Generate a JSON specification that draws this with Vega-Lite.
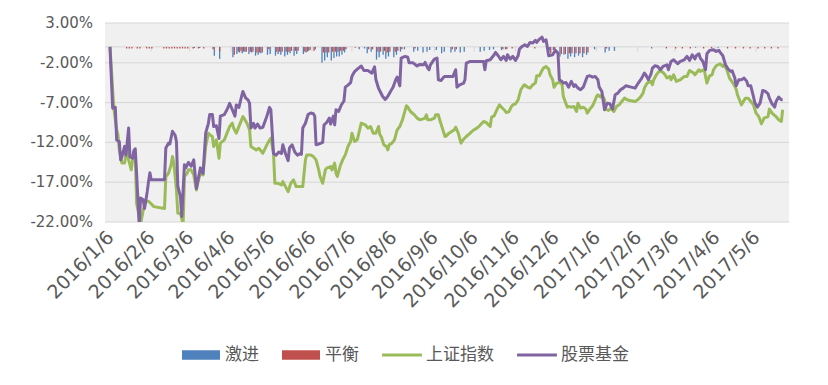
{
"$schema": "https://vega.github.io/schema/vega-lite/v6.json",
"width": 684,
"height": 199,
"autosize": {"type": "none"},
"padding": {"left": 105, "top": 23, "right": 39, "bottom": 163},
"background": "white",
"config": {
  "view": {"stroke": null, "fill": "#f0f0f0"},
  "axisX": {"domain": false, "ticks": false, "grid": false, "labelColor": "#595959", "labelFont": "DejaVu Sans", "labelFontSize": 19, "labelAngle": -46, "labelAlign": "right", "labelBaseline": "middle", "labelPadding": 12, "labelOverlap": false, "labelBound": false, "labelFlush": false},
  "legend": {"orient": "none", "legendX": 77, "legendY": 313, "direction": "horizontal", "padding": 0, "symbolSize": 1444, "symbolType": "square", "symbolStrokeWidth": 0, "labelFont": "Noto Sans CJK SC", "labelFontSize": 17, "labelColor": "#595959", "labelOffset": 5, "columnPadding": 23, "titleFontSize": 0}
},
"datasets": {
  "mon": [
    {"d": "2016/1/6"}, {"d": "2016/2/6"}, {"d": "2016/3/6"}, {"d": "2016/4/6"}, {"d": "2016/5/6"}, {"d": "2016/6/6"}, {"d": "2016/7/6"}, {"d": "2016/8/6"}, {"d": "2016/9/6"}, {"d": "2016/10/6"}, {"d": "2016/11/6"}, {"d": "2016/12/6"}, {"d": "2017/1/6"}, {"d": "2017/2/6"}, {"d": "2017/3/6"}, {"d": "2017/4/6"}, {"d": "2017/5/6"}
  ],
  "grid": [{"v": 3, "t": "3.00%"}, {"v": -2, "t": "-2.00%"}, {"v": -7, "t": "-7.00%"}, {"v": -12, "t": "-12.00%"}, {"v": -17, "t": "-17.00%"}, {"v": -22, "t": "-22.00%"}],
  "line": [
    {"d":"2016/1/6","s":"上证指数","v":0},{"d":"2016/1/8","s":"上证指数","v":-5.39},{"d":"2016/1/9","s":"上证指数","v":-7.9},{"d":"2016/1/11","s":"上证指数","v":-10.4},{"d":"2016/1/12","s":"上证指数","v":-11.05},{"d":"2016/1/13","s":"上证指数","v":-12.94},{"d":"2016/1/15","s":"上证指数","v":-14.6},{"d":"2016/1/17","s":"上证指数","v":-14.6},{"d":"2016/1/19","s":"上证指数","v":-12.52},{"d":"2016/1/20","s":"上证指数","v":-14.2},{"d":"2016/1/22","s":"上证指数","v":-15.45},{"d":"2016/1/23","s":"上证指数","v":-14.2},{"d":"2016/1/25","s":"上证指数","v":-13.36},{"d":"2016/1/26","s":"上证指数","v":-19.65},{"d":"2016/1/28","s":"上证指数","v":-21.3},{"d":"2016/1/29","s":"上证指数","v":-22.3},{"d":"2016/1/31","s":"上证指数","v":-20.5},{"d":"2016/2/2","s":"上证指数","v":-19.4},{"d":"2016/2/4","s":"上证指数","v":-19.4},{"d":"2016/2/8","s":"上证指数","v":-20.07},{"d":"2016/2/16","s":"上证指数","v":-20.3},{"d":"2016/2/17","s":"上证指数","v":-16.3},{"d":"2016/2/19","s":"上证指数","v":-15.87},{"d":"2016/2/21","s":"上证指数","v":-14.8},{"d":"2016/2/22","s":"上证指数","v":-13.78},{"d":"2016/2/23","s":"上证指数","v":-14.6},{"d":"2016/2/25","s":"上证指数","v":-17.97},{"d":"2016/2/26","s":"上证指数","v":-20.9},{"d":"2016/2/28","s":"上证指数","v":-20.9},{"d":"2016/3/1","s":"上证指数","v":-22.3},{"d":"2016/3/2","s":"上证指数","v":-16.3},{"d":"2016/3/4","s":"上证指数","v":-15.87},{"d":"2016/3/5","s":"上证指数","v":-15.45},{"d":"2016/3/7","s":"上证指数","v":-15.45},{"d":"2016/3/9","s":"上证指数","v":-16.08},{"d":"2016/3/11","s":"上证指数","v":-17.97},{"d":"2016/3/12","s":"上证指数","v":-17.13},{"d":"2016/3/14","s":"上证指数","v":-15.87},{"d":"2016/3/16","s":"上证指数","v":-16.08},{"d":"2016/3/18","s":"上证指数","v":-12.52},{"d":"2016/3/20","s":"上证指数","v":-10.84},{"d":"2016/3/21","s":"上证指数","v":-11.05},{"d":"2016/3/23","s":"上证指数","v":-11.26},{"d":"2016/3/24","s":"上证指数","v":-12.52},{"d":"2016/3/26","s":"上证指数","v":-11.68},{"d":"2016/3/28","s":"上证指数","v":-13.99},{"d":"2016/3/29","s":"上证指数","v":-12.1},{"d":"2016/4/1","s":"上证指数","v":-11.68},{"d":"2016/4/3","s":"上证指数","v":-10.84},{"d":"2016/4/5","s":"上证指数","v":-10.0},{"d":"2016/4/7","s":"上证指数","v":-9.58},{"d":"2016/4/8","s":"上证指数","v":-10.21},{"d":"2016/4/10","s":"上证指数","v":-10.84},{"d":"2016/4/13","s":"上证指数","v":-9.58},{"d":"2016/4/15","s":"上证指数","v":-8.75},{"d":"2016/4/18","s":"上证指数","v":-9.58},{"d":"2016/4/20","s":"上证指数","v":-10.42},{"d":"2016/4/21","s":"上证指数","v":-12.52},{"d":"2016/4/23","s":"上证指数","v":-12.73},{"d":"2016/4/25","s":"上证指数","v":-12.94},{"d":"2016/4/27","s":"上证指数","v":-12.73},{"d":"2016/4/30","s":"上证指数","v":-13.36},{"d":"2016/5/3","s":"上证指数","v":-12.31},{"d":"2016/5/5","s":"上证指数","v":-11.68},{"d":"2016/5/6","s":"上证指数","v":-11.47},{"d":"2016/5/8","s":"上证指数","v":-13.36},{"d":"2016/5/9","s":"上证指数","v":-17.13},{"d":"2016/5/11","s":"上证指数","v":-17.13},{"d":"2016/5/14","s":"上证指数","v":-17.34},{"d":"2016/5/15","s":"上证指数","v":-16.92},{"d":"2016/5/17","s":"上证指数","v":-17.55},{"d":"2016/5/19","s":"上证指数","v":-18.18},{"d":"2016/5/21","s":"上证指数","v":-17.13},{"d":"2016/5/23","s":"上证指数","v":-16.71},{"d":"2016/5/25","s":"上证指数","v":-17.55},{"d":"2016/5/30","s":"上证指数","v":-17.55},{"d":"2016/6/1","s":"上证指数","v":-14.2},{"d":"2016/6/2","s":"上证指数","v":-13.57},{"d":"2016/6/5","s":"上证指数","v":-13.57},{"d":"2016/6/7","s":"上证指数","v":-13.78},{"d":"2016/6/9","s":"上证指数","v":-14.2},{"d":"2016/6/11","s":"上证指数","v":-15.45},{"d":"2016/6/12","s":"上证指数","v":-16.29},{"d":"2016/6/14","s":"上证指数","v":-17.13},{"d":"2016/6/16","s":"上证指数","v":-15.45},{"d":"2016/6/17","s":"上证指数","v":-15.24},{"d":"2016/6/20","s":"上证指数","v":-15.03},{"d":"2016/6/21","s":"上证指数","v":-15.45},{"d":"2016/6/23","s":"上证指数","v":-14.6},{"d":"2016/6/24","s":"上证指数","v":-15.87},{"d":"2016/6/25","s":"上证指数","v":-16.29},{"d":"2016/6/27","s":"上证指数","v":-15.03},{"d":"2016/6/29","s":"上证指数","v":-14.2},{"d":"2016/7/1","s":"上证指数","v":-13.57},{"d":"2016/7/3","s":"上证指数","v":-12.52},{"d":"2016/7/5","s":"上证指数","v":-11.89},{"d":"2016/7/6","s":"上证指数","v":-10.84},{"d":"2016/7/8","s":"上证指数","v":-11.89},{"d":"2016/7/10","s":"上证指数","v":-11.68},{"d":"2016/7/13","s":"上证指数","v":-9.58},{"d":"2016/7/16","s":"上证指数","v":-9.79},{"d":"2016/7/18","s":"上证指数","v":-10.21},{"d":"2016/7/20","s":"上证指数","v":-10.0},{"d":"2016/7/22","s":"上证指数","v":-10.84},{"d":"2016/7/24","s":"上证指数","v":-10.84},{"d":"2016/7/26","s":"上证指数","v":-10.0},{"d":"2016/7/27","s":"上证指数","v":-11.05},{"d":"2016/7/28","s":"上证指数","v":-11.26},{"d":"2016/7/30","s":"上证指数","v":-12.31},{"d":"2016/8/1","s":"上证指数","v":-12.52},{"d":"2016/8/2","s":"上证指数","v":-12.94},{"d":"2016/8/3","s":"上证指数","v":-12.31},{"d":"2016/8/5","s":"上证指数","v":-12.1},{"d":"2016/8/7","s":"上证指数","v":-11.68},{"d":"2016/8/8","s":"上证指数","v":-11.05},{"d":"2016/8/9","s":"上证指数","v":-10.42},{"d":"2016/8/11","s":"上证指数","v":-10.0},{"d":"2016/8/13","s":"上证指数","v":-9.16},{"d":"2016/8/16","s":"上证指数","v":-7.4},{"d":"2016/8/17","s":"上证指数","v":-7.57},{"d":"2016/8/19","s":"上证指数","v":-8.12},{"d":"2016/8/22","s":"上证指数","v":-8.54},{"d":"2016/8/24","s":"上证指数","v":-8.95},{"d":"2016/8/26","s":"上证指数","v":-9.16},{"d":"2016/8/28","s":"上证指数","v":-9.08},{"d":"2016/8/30","s":"上证指数","v":-8.95},{"d":"2016/8/31","s":"上证指数","v":-8.54},{"d":"2016/9/1","s":"上证指数","v":-9.16},{"d":"2016/9/3","s":"上证指数","v":-9.16},{"d":"2016/9/6","s":"上证指数","v":-8.95},{"d":"2016/9/7","s":"上证指数","v":-8.54},{"d":"2016/9/9","s":"上证指数","v":-8.54},{"d":"2016/9/10","s":"上证指数","v":-9.16},{"d":"2016/9/12","s":"上证指数","v":-10.21},{"d":"2016/9/14","s":"上证指数","v":-11.26},{"d":"2016/9/15","s":"上证指数","v":-11.18},{"d":"2016/9/17","s":"上证指数","v":-10.84},{"d":"2016/9/19","s":"上证指数","v":-10.63},{"d":"2016/9/21","s":"上证指数","v":-10.42},{"d":"2016/9/22","s":"上证指数","v":-10.09},{"d":"2016/9/24","s":"上证指数","v":-10.84},{"d":"2016/9/26","s":"上证指数","v":-12.1},{"d":"2016/9/28","s":"上证指数","v":-11.6},{"d":"2016/9/30","s":"上证指数","v":-11.26},{"d":"2016/10/3","s":"上证指数","v":-10.84},{"d":"2016/10/5","s":"上证指数","v":-10.51},{"d":"2016/10/8","s":"上证指数","v":-10.21},{"d":"2016/10/10","s":"上证指数","v":-9.92},{"d":"2016/10/13","s":"上证指数","v":-9.37},{"d":"2016/10/15","s":"上证指数","v":-9.5},{"d":"2016/10/16","s":"上证指数","v":-9.67},{"d":"2016/10/18","s":"上证指数","v":-10.0},{"d":"2016/10/19","s":"上证指数","v":-8.83},{"d":"2016/10/21","s":"上证指数","v":-8.66},{"d":"2016/10/23","s":"上证指数","v":-7.9},{"d":"2016/10/25","s":"上证指数","v":-7.28},{"d":"2016/10/26","s":"上证指数","v":-7.49},{"d":"2016/10/29","s":"上证指数","v":-7.99},{"d":"2016/10/30","s":"上证指数","v":-8.24},{"d":"2016/11/1","s":"上证指数","v":-8.16},{"d":"2016/11/3","s":"上证指数","v":-7.49},{"d":"2016/11/4","s":"上证指数","v":-7.28},{"d":"2016/11/6","s":"上证指数","v":-7.15},{"d":"2016/11/8","s":"上证指数","v":-6.65},{"d":"2016/11/10","s":"上证指数","v":-5.39},{"d":"2016/11/12","s":"上证指数","v":-4.89},{"d":"2016/11/13","s":"上证指数","v":-4.76},{"d":"2016/11/15","s":"上证指数","v":-5.06},{"d":"2016/11/17","s":"上证指数","v":-5.18},{"d":"2016/11/19","s":"上证指数","v":-4.76},{"d":"2016/11/21","s":"上证指数","v":-4.55},{"d":"2016/11/22","s":"上证指数","v":-3.63},{"d":"2016/11/24","s":"上证指数","v":-3.63},{"d":"2016/11/26","s":"上证指数","v":-2.96},{"d":"2016/11/27","s":"上证指数","v":-2.67},{"d":"2016/11/29","s":"上证指数","v":-2.46},{"d":"2016/12/1","s":"上证指数","v":-2.79},{"d":"2016/12/2","s":"上证指数","v":-3.5},{"d":"2016/12/4","s":"上证指数","v":-4.13},{"d":"2016/12/5","s":"上证指数","v":-5.06},{"d":"2016/12/7","s":"上证指数","v":-4.55},{"d":"2016/12/9","s":"上证指数","v":-4.47},{"d":"2016/12/11","s":"上证指数","v":-4.64},{"d":"2016/12/12","s":"上证指数","v":-6.23},{"d":"2016/12/15","s":"上证指数","v":-7.57},{"d":"2016/12/16","s":"上证指数","v":-7.49},{"d":"2016/12/18","s":"上证指数","v":-7.57},{"d":"2016/12/20","s":"上证指数","v":-7.49},{"d":"2016/12/22","s":"上证指数","v":-8.12},{"d":"2016/12/23","s":"上证指数","v":-7.07},{"d":"2016/12/25","s":"上证指数","v":-7.7},{"d":"2016/12/27","s":"上证指数","v":-7.57},{"d":"2016/12/29","s":"上证指数","v":-7.82},{"d":"2016/12/30","s":"上证指数","v":-8.33},{"d":"2017/1/1","s":"上证指数","v":-7.82},{"d":"2017/1/3","s":"上证指数","v":-7.4},{"d":"2017/1/5","s":"上证指数","v":-6.65},{"d":"2017/1/6","s":"上证指数","v":-6.23},{"d":"2017/1/7","s":"上证指数","v":-6.02},{"d":"2017/1/9","s":"上证指数","v":-6.31},{"d":"2017/1/10","s":"上证指数","v":-6.02},{"d":"2017/1/12","s":"上证指数","v":-6.65},{"d":"2017/1/13","s":"上证指数","v":-7.82},{"d":"2017/1/15","s":"上证指数","v":-7.99},{"d":"2017/1/17","s":"上证指数","v":-7.7},{"d":"2017/1/19","s":"上证指数","v":-8.12},{"d":"2017/1/21","s":"上证指数","v":-7.49},{"d":"2017/1/23","s":"上证指数","v":-7.28},{"d":"2017/1/25","s":"上证指数","v":-6.86},{"d":"2017/1/27","s":"上证指数","v":-6.44},{"d":"2017/1/29","s":"上证指数","v":-6.65},{"d":"2017/1/31","s":"上证指数","v":-6.73},{"d":"2017/2/4","s":"上证指数","v":-6.86},{"d":"2017/2/6","s":"上证指数","v":-6.65},{"d":"2017/2/8","s":"上证指数","v":-6.31},{"d":"2017/2/10","s":"上证指数","v":-5.81},{"d":"2017/2/11","s":"上证指数","v":-5.18},{"d":"2017/2/13","s":"上证指数","v":-4.55},{"d":"2017/2/16","s":"上证指数","v":-4.34},{"d":"2017/2/17","s":"上证指数","v":-4.76},{"d":"2017/2/18","s":"上证指数","v":-4.13},{"d":"2017/2/20","s":"上证指数","v":-3.5},{"d":"2017/2/22","s":"上证指数","v":-3.08},{"d":"2017/2/24","s":"上证指数","v":-3.08},{"d":"2017/2/26","s":"上证指数","v":-3.38},{"d":"2017/2/28","s":"上证指数","v":-3.92},{"d":"2017/3/2","s":"上证指数","v":-3.71},{"d":"2017/3/3","s":"上证指数","v":-4.13},{"d":"2017/3/5","s":"上证指数","v":-3.5},{"d":"2017/3/7","s":"上证指数","v":-4.34},{"d":"2017/3/10","s":"上证指数","v":-4.13},{"d":"2017/3/13","s":"上证指数","v":-3.71},{"d":"2017/3/15","s":"上证指数","v":-3.71},{"d":"2017/3/17","s":"上证指数","v":-2.96},{"d":"2017/3/20","s":"上证指数","v":-3.29},{"d":"2017/3/21","s":"上证指数","v":-3.5},{"d":"2017/3/24","s":"上证指数","v":-2.87},{"d":"2017/3/25","s":"上证指数","v":-3.08},{"d":"2017/3/28","s":"上证指数","v":-2.87},{"d":"2017/3/30","s":"上证指数","v":-4.55},{"d":"2017/4/1","s":"上证指数","v":-3.63},{"d":"2017/4/3","s":"上证指数","v":-3.5},{"d":"2017/4/4","s":"上证指数","v":-2.87},{"d":"2017/4/6","s":"上证指数","v":-2.37},{"d":"2017/4/9","s":"上证指数","v":-2.12},{"d":"2017/4/11","s":"上证指数","v":-2.46},{"d":"2017/4/12","s":"上证指数","v":-2.25},{"d":"2017/4/14","s":"上证指数","v":-2.87},{"d":"2017/4/16","s":"上证指数","v":-3.92},{"d":"2017/4/19","s":"上证指数","v":-4.64},{"d":"2017/4/21","s":"上证指数","v":-5.31},{"d":"2017/4/22","s":"上证指数","v":-6.02},{"d":"2017/4/25","s":"上证指数","v":-7.28},{"d":"2017/4/28","s":"上证指数","v":-6.44},{"d":"2017/4/30","s":"上证指数","v":-6.44},{"d":"2017/5/2","s":"上证指数","v":-6.86},{"d":"2017/5/4","s":"上证指数","v":-7.28},{"d":"2017/5/6","s":"上证指数","v":-8.33},{"d":"2017/5/8","s":"上证指数","v":-8.75},{"d":"2017/5/10","s":"上证指数","v":-9.67},{"d":"2017/5/12","s":"上证指数","v":-8.95},{"d":"2017/5/15","s":"上证指数","v":-8.75},{"d":"2017/5/16","s":"上证指数","v":-7.82},{"d":"2017/5/18","s":"上证指数","v":-8.33},{"d":"2017/5/21","s":"上证指数","v":-8.75},{"d":"2017/5/23","s":"上证指数","v":-9.16},{"d":"2017/5/25","s":"上证指数","v":-9.37},{"d":"2017/5/26","s":"上证指数","v":-7.9},
    {"d":"2016/1/6","s":"股票基金","v":0},{"d":"2016/1/8","s":"股票基金","v":-7.7},{"d":"2016/1/10","s":"股票基金","v":-7.6},{"d":"2016/1/11","s":"股票基金","v":-11.7},{"d":"2016/1/13","s":"股票基金","v":-11.9},{"d":"2016/1/14","s":"股票基金","v":-14.2},{"d":"2016/1/15","s":"股票基金","v":-13.8},{"d":"2016/1/17","s":"股票基金","v":-12.5},{"d":"2016/1/18","s":"股票基金","v":-13.6},{"d":"2016/1/20","s":"股票基金","v":-10.2},{"d":"2016/1/21","s":"股票基金","v":-13.8},{"d":"2016/1/23","s":"股票基金","v":-14.0},{"d":"2016/1/24","s":"股票基金","v":-13.0},{"d":"2016/1/25","s":"股票基金","v":-12.8},{"d":"2016/1/26","s":"股票基金","v":-15.9},{"d":"2016/1/27","s":"股票基金","v":-19.2},{"d":"2016/1/28","s":"股票基金","v":-22.5},{"d":"2016/1/29","s":"股票基金","v":-19.0},{"d":"2016/1/31","s":"股票基金","v":-19.2},{"d":"2016/2/1","s":"股票基金","v":-20.3},{"d":"2016/2/3","s":"股票基金","v":-18.2},{"d":"2016/2/4","s":"股票基金","v":-16.9},{"d":"2016/2/5","s":"股票基金","v":-15.8},{"d":"2016/2/6","s":"股票基金","v":-16.7},{"d":"2016/2/16","s":"股票基金","v":-16.7},{"d":"2016/2/17","s":"股票基金","v":-12.7},{"d":"2016/2/19","s":"股票基金","v":-12.1},{"d":"2016/2/20","s":"股票基金","v":-12.2},{"d":"2016/2/22","s":"股票基金","v":-10.6},{"d":"2016/2/24","s":"股票基金","v":-11.1},{"d":"2016/2/25","s":"股票基金","v":-11.9},{"d":"2016/2/26","s":"股票基金","v":-17.5},{"d":"2016/2/28","s":"股票基金","v":-18.8},{"d":"2016/2/29","s":"股票基金","v":-21.3},{"d":"2016/3/2","s":"股票基金","v":-14.8},{"d":"2016/3/3","s":"股票基金","v":-15.2},{"d":"2016/3/5","s":"股票基金","v":-14.5},{"d":"2016/3/7","s":"股票基金","v":-15.0},{"d":"2016/3/9","s":"股票基金","v":-14.2},{"d":"2016/3/11","s":"股票基金","v":-17.8},{"d":"2016/3/12","s":"股票基金","v":-16.9},{"d":"2016/3/14","s":"股票基金","v":-15.2},{"d":"2016/3/16","s":"股票基金","v":-15.9},{"d":"2016/3/18","s":"股票基金","v":-10.8},{"d":"2016/3/20","s":"股票基金","v":-9.6},{"d":"2016/3/21","s":"股票基金","v":-8.5},{"d":"2016/3/23","s":"股票基金","v":-8.5},{"d":"2016/3/24","s":"股票基金","v":-10.0},{"d":"2016/3/26","s":"股票基金","v":-9.9},{"d":"2016/3/28","s":"股票基金","v":-11.5},{"d":"2016/3/29","s":"股票基金","v":-8.7},{"d":"2016/4/1","s":"股票基金","v":-8.5},{"d":"2016/4/3","s":"股票基金","v":-7.9},{"d":"2016/4/5","s":"股票基金","v":-7.1},{"d":"2016/4/7","s":"股票基金","v":-7.9},{"d":"2016/4/9","s":"股票基金","v":-8.7},{"d":"2016/4/10","s":"股票基金","v":-7.3},{"d":"2016/4/12","s":"股票基金","v":-7.6},{"d":"2016/4/14","s":"股票基金","v":-6.2},{"d":"2016/4/15","s":"股票基金","v":-5.6},{"d":"2016/4/17","s":"股票基金","v":-6.4},{"d":"2016/4/19","s":"股票基金","v":-6.7},{"d":"2016/4/20","s":"股票基金","v":-7.1},{"d":"2016/4/21","s":"股票基金","v":-10.2},{"d":"2016/4/23","s":"股票基金","v":-9.6},{"d":"2016/4/24","s":"股票基金","v":-10.2},{"d":"2016/4/26","s":"股票基金","v":-9.7},{"d":"2016/4/28","s":"股票基金","v":-10.2},{"d":"2016/4/30","s":"股票基金","v":-10.1},{"d":"2016/5/3","s":"股票基金","v":-8.7},{"d":"2016/5/5","s":"股票基金","v":-7.6},{"d":"2016/5/6","s":"股票基金","v":-7.9},{"d":"2016/5/8","s":"股票基金","v":-13.4},{"d":"2016/5/10","s":"股票基金","v":-13.6},{"d":"2016/5/12","s":"股票基金","v":-13.2},{"d":"2016/5/14","s":"股票基金","v":-13.4},{"d":"2016/5/15","s":"股票基金","v":-12.3},{"d":"2016/5/17","s":"股票基金","v":-13.4},{"d":"2016/5/19","s":"股票基金","v":-14.3},{"d":"2016/5/20","s":"股票基金","v":-12.7},{"d":"2016/5/22","s":"股票基金","v":-12.3},{"d":"2016/5/24","s":"股票基金","v":-13.2},{"d":"2016/5/26","s":"股票基金","v":-13.6},{"d":"2016/5/28","s":"股票基金","v":-13.4},{"d":"2016/5/29","s":"股票基金","v":-13.5},{"d":"2016/5/30","s":"股票基金","v":-10.2},{"d":"2016/6/1","s":"股票基金","v":-9.6},{"d":"2016/6/3","s":"股票基金","v":-8.5},{"d":"2016/6/5","s":"股票基金","v":-8.3},{"d":"2016/6/7","s":"股票基金","v":-8.4},{"d":"2016/6/8","s":"股票基金","v":-8.7},{"d":"2016/6/9","s":"股票基金","v":-12.3},{"d":"2016/6/11","s":"股票基金","v":-12.2},{"d":"2016/6/14","s":"股票基金","v":-12.0},{"d":"2016/6/15","s":"股票基金","v":-9.8},{"d":"2016/6/17","s":"股票基金","v":-9.5},{"d":"2016/6/19","s":"股票基金","v":-8.95},{"d":"2016/6/20","s":"股票基金","v":-9.7},{"d":"2016/6/22","s":"股票基金","v":-8.7},{"d":"2016/6/23","s":"股票基金","v":-9.8},{"d":"2016/6/24","s":"股票基金","v":-7.9},{"d":"2016/6/26","s":"股票基金","v":-8.1},{"d":"2016/6/28","s":"股票基金","v":-7.3},{"d":"2016/6/30","s":"股票基金","v":-6.8},{"d":"2016/7/1","s":"股票基金","v":-5.05},{"d":"2016/7/3","s":"股票基金","v":-4.8},{"d":"2016/7/5","s":"股票基金","v":-4.5},{"d":"2016/7/6","s":"股票基金","v":-3.7},{"d":"2016/7/8","s":"股票基金","v":-3.1},{"d":"2016/7/10","s":"股票基金","v":-2.8},{"d":"2016/7/13","s":"股票基金","v":-2.4},{"d":"2016/7/15","s":"股票基金","v":-2.96},{"d":"2016/7/18","s":"股票基金","v":-2.96},{"d":"2016/7/21","s":"股票基金","v":-3.3},{"d":"2016/7/23","s":"股票基金","v":-2.5},{"d":"2016/7/24","s":"股票基金","v":-4.1},{"d":"2016/7/26","s":"股票基金","v":-5.2},{"d":"2016/7/29","s":"股票基金","v":-6.2},{"d":"2016/7/31","s":"股票基金","v":-6.6},{"d":"2016/8/2","s":"股票基金","v":-6.2},{"d":"2016/8/4","s":"股票基金","v":-5.6},{"d":"2016/8/6","s":"股票基金","v":-5.05},{"d":"2016/8/8","s":"股票基金","v":-4.1},{"d":"2016/8/9","s":"股票基金","v":-3.8},{"d":"2016/8/11","s":"股票基金","v":-4.9},{"d":"2016/8/12","s":"股票基金","v":-1.4},{"d":"2016/8/15","s":"股票基金","v":-1.2},{"d":"2016/8/17","s":"股票基金","v":-1.3},{"d":"2016/8/18","s":"股票基金","v":-2.0},{"d":"2016/8/21","s":"股票基金","v":-2.0},{"d":"2016/8/24","s":"股票基金","v":-2.4},{"d":"2016/8/26","s":"股票基金","v":-2.2},{"d":"2016/8/29","s":"股票基金","v":-2.25},{"d":"2016/8/30","s":"股票基金","v":-1.95},{"d":"2016/9/1","s":"股票基金","v":-2.66},{"d":"2016/9/2","s":"股票基金","v":-2.87},{"d":"2016/9/3","s":"股票基金","v":-2.25},{"d":"2016/9/6","s":"股票基金","v":-1.53},{"d":"2016/9/8","s":"股票基金","v":-1.41},{"d":"2016/9/9","s":"股票基金","v":-4.13},{"d":"2016/9/11","s":"股票基金","v":-4.22},{"d":"2016/9/13","s":"股票基金","v":-3.8},{"d":"2016/9/14","s":"股票基金","v":-3.71},{"d":"2016/9/20","s":"股票基金","v":-3.71},{"d":"2016/9/22","s":"股票基金","v":-2.87},{"d":"2016/9/23","s":"股票基金","v":-5.06},{"d":"2016/9/25","s":"股票基金","v":-4.76},{"d":"2016/9/28","s":"股票基金","v":-4.55},{"d":"2016/9/29","s":"股票基金","v":-4.13},{"d":"2016/9/30","s":"股票基金","v":-2.04},{"d":"2016/10/3","s":"股票基金","v":-1.83},{"d":"2016/10/13","s":"股票基金","v":-1.83},{"d":"2016/10/14","s":"股票基金","v":-2.87},{"d":"2016/10/15","s":"股票基金","v":-1.74},{"d":"2016/10/18","s":"股票基金","v":-1.62},{"d":"2016/10/21","s":"股票基金","v":-0.99},{"d":"2016/10/22","s":"股票基金","v":-0.69},{"d":"2016/10/24","s":"股票基金","v":-1.11},{"d":"2016/10/26","s":"股票基金","v":-1.62},{"d":"2016/10/28","s":"股票基金","v":-1.2},{"d":"2016/10/30","s":"股票基金","v":-1.7},{"d":"2016/10/31","s":"股票基金","v":-0.99},{"d":"2016/11/2","s":"股票基金","v":-1.53},{"d":"2016/11/4","s":"股票基金","v":-1.2},{"d":"2016/11/6","s":"股票基金","v":-1.7},{"d":"2016/11/8","s":"股票基金","v":-1.11},{"d":"2016/11/9","s":"股票基金","v":-0.28},{"d":"2016/11/11","s":"股票基金","v":0.06},{"d":"2016/11/13","s":"股票基金","v":0.27},{"d":"2016/11/15","s":"股票基金","v":0.06},{"d":"2016/11/17","s":"股票基金","v":0.56},{"d":"2016/11/19","s":"股票基金","v":0.48},{"d":"2016/11/21","s":"股票基金","v":0.82},{"d":"2016/11/22","s":"股票基金","v":0.56},{"d":"2016/11/24","s":"股票基金","v":0.98},{"d":"2016/11/26","s":"股票基金","v":1.23},{"d":"2016/11/27","s":"股票基金","v":0.69},{"d":"2016/11/29","s":"股票基金","v":0.9},{"d":"2016/12/1","s":"股票基金","v":-1.11},{"d":"2016/12/4","s":"股票基金","v":-0.99},{"d":"2016/12/6","s":"股票基金","v":-0.44},{"d":"2016/12/8","s":"股票基金","v":-0.78},{"d":"2016/12/9","s":"股票基金","v":-4.13},{"d":"2016/12/11","s":"股票基金","v":-4.34},{"d":"2016/12/12","s":"股票基金","v":-4.55},{"d":"2016/12/14","s":"股票基金","v":-4.47},{"d":"2016/12/16","s":"股票基金","v":-5.06},{"d":"2016/12/18","s":"股票基金","v":-4.34},{"d":"2016/12/20","s":"股票基金","v":-4.97},{"d":"2016/12/21","s":"股票基金","v":-4.76},{"d":"2016/12/23","s":"股票基金","v":-5.18},{"d":"2016/12/25","s":"股票基金","v":-5.39},{"d":"2016/12/27","s":"股票基金","v":-5.06},{"d":"2016/12/30","s":"股票基金","v":-3.71},{"d":"2017/1/1","s":"股票基金","v":-3.63},{"d":"2017/1/3","s":"股票基金","v":-3.8},{"d":"2017/1/5","s":"股票基金","v":-3.71},{"d":"2017/1/7","s":"股票基金","v":-4.13},{"d":"2017/1/8","s":"股票基金","v":-5.06},{"d":"2017/1/10","s":"股票基金","v":-5.6},{"d":"2017/1/12","s":"股票基金","v":-7.9},{"d":"2017/1/14","s":"股票基金","v":-7.07},{"d":"2017/1/16","s":"股票基金","v":-7.15},{"d":"2017/1/18","s":"股票基金","v":-7.82},{"d":"2017/1/20","s":"股票基金","v":-6.02},{"d":"2017/1/22","s":"股票基金","v":-5.81},{"d":"2017/1/24","s":"股票基金","v":-5.39},{"d":"2017/1/26","s":"股票基金","v":-5.18},{"d":"2017/1/28","s":"股票基金","v":-4.89},{"d":"2017/2/1","s":"股票基金","v":-5.06},{"d":"2017/2/4","s":"股票基金","v":-5.18},{"d":"2017/2/6","s":"股票基金","v":-4.64},{"d":"2017/2/9","s":"股票基金","v":-3.92},{"d":"2017/2/11","s":"股票基金","v":-3.29},{"d":"2017/2/12","s":"股票基金","v":-3.5},{"d":"2017/2/14","s":"股票基金","v":-4.13},{"d":"2017/2/16","s":"股票基金","v":-3.38},{"d":"2017/2/17","s":"股票基金","v":-2.66},{"d":"2017/2/19","s":"股票基金","v":-2.37},{"d":"2017/2/21","s":"股票基金","v":-2.46},{"d":"2017/2/23","s":"股票基金","v":-2.87},{"d":"2017/2/25","s":"股票基金","v":-2.46},{"d":"2017/2/28","s":"股票基金","v":-2.25},{"d":"2017/3/1","s":"股票基金","v":-2.87},{"d":"2017/3/3","s":"股票基金","v":-1.83},{"d":"2017/3/5","s":"股票基金","v":-1.62},{"d":"2017/3/8","s":"股票基金","v":-2.12},{"d":"2017/3/10","s":"股票基金","v":-1.83},{"d":"2017/3/13","s":"股票基金","v":-1.62},{"d":"2017/3/15","s":"股票基金","v":-1.2},{"d":"2017/3/17","s":"股票基金","v":-1.7},{"d":"2017/3/19","s":"股票基金","v":-0.99},{"d":"2017/3/21","s":"股票基金","v":-1.53},{"d":"2017/3/22","s":"股票基金","v":-1.11},{"d":"2017/3/24","s":"股票基金","v":-0.86},{"d":"2017/3/25","s":"股票基金","v":-1.41},{"d":"2017/3/27","s":"股票基金","v":-1.83},{"d":"2017/3/29","s":"股票基金","v":-2.87},{"d":"2017/3/30","s":"股票基金","v":-0.86},{"d":"2017/4/1","s":"股票基金","v":-0.44},{"d":"2017/4/4","s":"股票基金","v":-0.36},{"d":"2017/4/6","s":"股票基金","v":-0.57},{"d":"2017/4/8","s":"股票基金","v":-0.44},{"d":"2017/4/9","s":"股票基金","v":-0.69},{"d":"2017/4/11","s":"股票基金","v":-1.11},{"d":"2017/4/13","s":"股票基金","v":-2.25},{"d":"2017/4/15","s":"股票基金","v":-2.79},{"d":"2017/4/17","s":"股票基金","v":-3.08},{"d":"2017/4/18","s":"股票基金","v":-3.0},{"d":"2017/4/20","s":"股票基金","v":-3.92},{"d":"2017/4/21","s":"股票基金","v":-4.89},{"d":"2017/4/23","s":"股票基金","v":-4.13},{"d":"2017/4/25","s":"股票基金","v":-4.13},{"d":"2017/4/27","s":"股票基金","v":-3.92},{"d":"2017/4/29","s":"股票基金","v":-4.34},{"d":"2017/4/30","s":"股票基金","v":-4.89},{"d":"2017/5/2","s":"股票基金","v":-4.89},{"d":"2017/5/4","s":"股票基金","v":-6.23},{"d":"2017/5/5","s":"股票基金","v":-6.98},{"d":"2017/5/7","s":"股票基金","v":-7.57},{"d":"2017/5/9","s":"股票基金","v":-7.07},{"d":"2017/5/11","s":"股票基金","v":-5.47},{"d":"2017/5/13","s":"股票基金","v":-5.6},{"d":"2017/5/15","s":"股票基金","v":-5.89},{"d":"2017/5/16","s":"股票基金","v":-6.44},{"d":"2017/5/18","s":"股票基金","v":-7.15},{"d":"2017/5/20","s":"股票基金","v":-7.57},{"d":"2017/5/21","s":"股票基金","v":-6.86},{"d":"2017/5/23","s":"股票基金","v":-6.31},{"d":"2017/5/25","s":"股票基金","v":-6.65},{"d":"2017/5/26","s":"股票基金","v":-6.65}
  ],
  "bar": [
    {"d":"2016/1/18","s":"平衡","v":-0.2},{"d":"2016/1/20","s":"平衡","v":-0.2},{"d":"2016/1/22","s":"平衡","v":-0.2},{"d":"2016/1/26","s":"平衡","v":-0.2},{"d":"2016/1/28","s":"平衡","v":-0.2},{"d":"2016/2/2","s":"平衡","v":-0.2},{"d":"2016/2/4","s":"平衡","v":-0.2},{"d":"2016/2/6","s":"平衡","v":-0.2},{"d":"2016/2/15","s":"平衡","v":-0.2},{"d":"2016/2/17","s":"平衡","v":-0.2},{"d":"2016/2/19","s":"平衡","v":-0.2},{"d":"2016/2/21","s":"平衡","v":-0.2},{"d":"2016/2/23","s":"平衡","v":-0.2},{"d":"2016/2/25","s":"平衡","v":-0.2},{"d":"2016/2/27","s":"平衡","v":-0.2},{"d":"2016/2/29","s":"平衡","v":-0.2},{"d":"2016/3/2","s":"平衡","v":-0.2},{"d":"2016/3/4","s":"平衡","v":-0.2},{"d":"2016/3/8","s":"平衡","v":-0.2},{"d":"2016/3/10","s":"激进","v":-0.15},{"d":"2016/3/12","s":"平衡","v":-0.2},{"d":"2016/3/14","s":"激进","v":-0.15},{"d":"2016/3/16","s":"平衡","v":-0.2},
    {"d":"2016/3/23","s":"平衡","v":-0.3},{"d":"2016/3/25","s":"激进","v":-1.1},{"d":"2016/3/28","s":"平衡","v":-0.55},{"d":"2016/3/29","s":"激进","v":-1.5},
    {"d":"2016/4/8","s":"平衡","v":-1.0},{"d":"2016/4/8","s":"激进","v":-1.3},{"d":"2016/4/11","s":"激进","v":-0.9},{"d":"2016/4/11","s":"平衡","v":-0.6},{"d":"2016/4/13","s":"激进","v":-0.7},{"d":"2016/4/13","s":"平衡","v":-0.5},{"d":"2016/4/15","s":"激进","v":-0.8},{"d":"2016/4/15","s":"平衡","v":-0.6},{"d":"2016/4/17","s":"激进","v":-0.6},{"d":"2016/4/17","s":"平衡","v":-0.6},{"d":"2016/4/20","s":"激进","v":-0.9},{"d":"2016/4/20","s":"平衡","v":-0.6},{"d":"2016/4/22","s":"激进","v":-0.7},{"d":"2016/4/22","s":"平衡","v":-0.6},{"d":"2016/4/25","s":"激进","v":-1.1},{"d":"2016/4/25","s":"平衡","v":-0.7},{"d":"2016/4/27","s":"激进","v":-1.0},{"d":"2016/4/27","s":"平衡","v":-0.7},{"d":"2016/4/29","s":"激进","v":-0.8},{"d":"2016/4/29","s":"平衡","v":-0.7},
    {"d":"2016/5/4","s":"激进","v":-1.0},{"d":"2016/5/4","s":"平衡","v":-0.3},{"d":"2016/5/6","s":"激进","v":-0.9},{"d":"2016/5/10","s":"激进","v":-1.1},{"d":"2016/5/10","s":"平衡","v":-0.6},{"d":"2016/5/12","s":"激进","v":-0.9},{"d":"2016/5/12","s":"平衡","v":-0.6},{"d":"2016/5/14","s":"激进","v":-1.0},{"d":"2016/5/14","s":"平衡","v":-0.6},{"d":"2016/5/17","s":"激进","v":-1.2},{"d":"2016/5/17","s":"平衡","v":-0.6},{"d":"2016/5/19","s":"激进","v":-1.0},{"d":"2016/5/19","s":"平衡","v":-0.6},{"d":"2016/5/21","s":"激进","v":-0.8},{"d":"2016/5/21","s":"平衡","v":-0.5},{"d":"2016/5/24","s":"激进","v":-1.1},{"d":"2016/5/24","s":"平衡","v":-0.5},{"d":"2016/5/26","s":"激进","v":-0.9},{"d":"2016/5/26","s":"平衡","v":-0.5},{"d":"2016/5/31","s":"激进","v":-0.9},{"d":"2016/5/31","s":"平衡","v":-0.6},{"d":"2016/6/2","s":"激进","v":-0.7},{"d":"2016/6/2","s":"平衡","v":-0.6},{"d":"2016/6/4","s":"激进","v":-0.5},{"d":"2016/6/4","s":"平衡","v":-0.4},{"d":"2016/6/7","s":"平衡","v":-0.5},{"d":"2016/6/9","s":"激进","v":-0.3},
    {"d":"2016/6/14","s":"激进","v":-2.0},{"d":"2016/6/14","s":"平衡","v":-0.7},{"d":"2016/6/16","s":"激进","v":-1.7},{"d":"2016/6/16","s":"平衡","v":-0.7},{"d":"2016/6/18","s":"激进","v":-1.3},{"d":"2016/6/18","s":"平衡","v":-0.7},{"d":"2016/6/21","s":"激进","v":-1.7},{"d":"2016/6/21","s":"平衡","v":-0.6},{"d":"2016/6/23","s":"激进","v":-1.4},{"d":"2016/6/23","s":"平衡","v":-0.6},{"d":"2016/6/25","s":"激进","v":-1.2},{"d":"2016/6/25","s":"平衡","v":-0.6},{"d":"2016/6/27","s":"激进","v":-1.2},{"d":"2016/6/27","s":"平衡","v":-0.5},{"d":"2016/6/29","s":"激进","v":-1.0},{"d":"2016/6/29","s":"平衡","v":-0.5},{"d":"2016/7/1","s":"激进","v":-0.7},{"d":"2016/7/1","s":"平衡","v":-0.3},
    {"d":"2016/7/8","s":"平衡","v":-0.1},{"d":"2016/7/12","s":"激进","v":-0.3},{"d":"2016/7/16","s":"激进","v":-0.2},{"d":"2016/7/18","s":"激进","v":-0.8},{"d":"2016/7/18","s":"平衡","v":-0.3},{"d":"2016/7/21","s":"激进","v":-0.6},{"d":"2016/7/21","s":"平衡","v":-0.3},{"d":"2016/7/25","s":"激进","v":-1.6},{"d":"2016/7/25","s":"平衡","v":-0.6},{"d":"2016/7/27","s":"激进","v":-1.3},{"d":"2016/7/27","s":"平衡","v":-0.6},{"d":"2016/7/30","s":"激进","v":-1.0},{"d":"2016/7/30","s":"平衡","v":-0.5},{"d":"2016/8/1","s":"激进","v":-1.5},{"d":"2016/8/1","s":"平衡","v":-0.7},{"d":"2016/8/3","s":"激进","v":-1.2},{"d":"2016/8/3","s":"平衡","v":-0.6},{"d":"2016/8/7","s":"激进","v":-1.3},{"d":"2016/8/7","s":"平衡","v":-0.6},{"d":"2016/8/9","s":"激进","v":-1.0},{"d":"2016/8/9","s":"平衡","v":-0.5},{"d":"2016/8/12","s":"激进","v":-0.6},{"d":"2016/8/12","s":"平衡","v":-0.3},{"d":"2016/8/15","s":"激进","v":-0.3},
    {"d":"2016/8/22","s":"激进","v":-0.6},{"d":"2016/8/22","s":"平衡","v":-0.2},{"d":"2016/8/25","s":"激进","v":-0.5},{"d":"2016/8/29","s":"激进","v":-0.7},{"d":"2016/9/1","s":"激进","v":-0.6},{"d":"2016/9/3","s":"激进","v":-0.4},{"d":"2016/9/8","s":"激进","v":-0.4},{"d":"2016/9/12","s":"激进","v":-0.8},{"d":"2016/9/14","s":"激进","v":-0.6},{"d":"2016/9/19","s":"激进","v":-0.7},{"d":"2016/9/19","s":"平衡","v":-0.3},{"d":"2016/9/22","s":"激进","v":-0.6},{"d":"2016/9/22","s":"平衡","v":-0.3},{"d":"2016/9/26","s":"激进","v":-0.7},{"d":"2016/9/29","s":"激进","v":-0.6},{"d":"2016/10/11","s":"激进","v":-0.6},{"d":"2016/10/14","s":"激进","v":-0.5},{"d":"2016/10/18","s":"激进","v":-0.4},{"d":"2016/10/21","s":"激进","v":-0.3},{"d":"2016/10/27","s":"平衡","v":-0.3},{"d":"2016/10/27","s":"激进","v":-0.4},{"d":"2016/10/30","s":"平衡","v":-0.3},{"d":"2016/10/30","s":"激进","v":-0.3},{"d":"2016/11/3","s":"平衡","v":-0.2},{"d":"2016/11/20","s":"平衡","v":-0.2},
    {"d":"2016/12/2","s":"平衡","v":-0.8},{"d":"2016/12/2","s":"激进","v":-0.5},{"d":"2016/12/5","s":"平衡","v":-0.6},{"d":"2016/12/5","s":"激进","v":-0.4},{"d":"2016/12/10","s":"平衡","v":-0.9},{"d":"2016/12/10","s":"激进","v":-1.2},{"d":"2016/12/13","s":"平衡","v":-0.9},{"d":"2016/12/13","s":"激进","v":-1.0},{"d":"2016/12/16","s":"平衡","v":-0.8},{"d":"2016/12/16","s":"激进","v":-1.5},{"d":"2016/12/18","s":"平衡","v":-0.8},{"d":"2016/12/18","s":"激进","v":-1.2},{"d":"2016/12/21","s":"平衡","v":-0.8},{"d":"2016/12/21","s":"激进","v":-1.3},{"d":"2016/12/24","s":"平衡","v":-0.8},{"d":"2016/12/24","s":"激进","v":-1.1},{"d":"2016/12/27","s":"平衡","v":-0.8},{"d":"2016/12/27","s":"激进","v":-1.3},{"d":"2016/12/30","s":"平衡","v":-0.7},{"d":"2016/12/30","s":"激进","v":-1.0},
    {"d":"2017/1/5","s":"激进","v":-0.3},{"d":"2017/1/13","s":"平衡","v":-0.2},{"d":"2017/1/13","s":"激进","v":-0.7},{"d":"2017/1/16","s":"激进","v":-0.5},{"d":"2017/1/20","s":"激进","v":-0.5},{"d":"2017/2/17","s":"激进","v":-0.2},{"d":"2017/2/27","s":"平衡","v":-0.2},{"d":"2017/3/6","s":"平衡","v":-0.2},{"d":"2017/3/11","s":"平衡","v":-0.2},{"d":"2017/3/17","s":"平衡","v":-0.2},{"d":"2017/3/22","s":"激进","v":-0.1},{"d":"2017/3/27","s":"平衡","v":-0.2},{"d":"2017/4/2","s":"平衡","v":-0.2},{"d":"2017/4/8","s":"激进","v":-0.1},{"d":"2017/4/14","s":"平衡","v":-0.2},{"d":"2017/4/20","s":"平衡","v":-0.2},{"d":"2017/4/26","s":"平衡","v":-0.2},{"d":"2017/5/1","s":"平衡","v":-0.2},{"d":"2017/5/7","s":"平衡","v":-0.2},{"d":"2017/5/12","s":"平衡","v":-0.2},{"d":"2017/5/17","s":"平衡","v":-0.2},{"d":"2017/5/22","s":"平衡","v":-0.2}
  ]
},
"layer": [
  {
    "data": {"name": "grid"},
    "mark": {"type": "rule", "color": "#d6d6d6", "strokeWidth": 1},
    "encoding": {
      "y": {"field": "v", "type": "quantitative", "title": null, "axis": null,
        "scale": {"domain": [-22, 3], "nice": false, "zero": false}}
    }
  },
  {
    "data": {"name": "grid"},
    "mark": {"type": "text", "align": "right", "baseline": "middle", "dx": -17, "font": "DejaVu Sans", "fontSize": 15, "color": "#595959"},
    "encoding": {
      "x": {"datum": {"year": 2016, "month": 1, "date": 6}, "type": "temporal"},
      "y": {"field": "v", "type": "quantitative", "axis": null},
      "text": {"field": "t", "type": "nominal"}
    }
  },
  {
    "data": {"name": "mon"},
    "mark": {"type": "rule", "color": "#d6d6d6", "strokeWidth": 1},
    "encoding": {
      "x": {"field": "d", "type": "temporal", "title": null,
        "scale": {"domain": [{"year": 2016, "month": 1, "date": 6}, {"year": 2017, "month": 5, "date": 27}]},
        "axis": {"values": [{"year":2016,"month":1,"date":6},{"year":2016,"month":2,"date":6},{"year":2016,"month":3,"date":6},{"year":2016,"month":4,"date":6},{"year":2016,"month":5,"date":6},{"year":2016,"month":6,"date":6},{"year":2016,"month":7,"date":6},{"year":2016,"month":8,"date":6},{"year":2016,"month":9,"date":6},{"year":2016,"month":10,"date":6},{"year":2016,"month":11,"date":6},{"year":2016,"month":12,"date":6},{"year":2017,"month":1,"date":6},{"year":2017,"month":2,"date":6},{"year":2017,"month":3,"date":6},{"year":2017,"month":4,"date":6},{"year":2017,"month":5,"date":6}],
          "labelOverlap": false,
          "labelExpr": "timeFormat(datum.value, '%Y/%-m/%-d')"}},
      "y": {"datum": 0, "type": "quantitative", "axis": null},
      "y2": {"datum": -0.6}
    }
  },
  {
    "data": {"values": [{"v": 0}]},
    "mark": {"type": "rule", "color": "#d6d6d6", "strokeWidth": 1},
    "encoding": {"y": {"field": "v", "type": "quantitative", "axis": null}}
  },
  {
    "data": {"name": "bar"},
    "transform": [{"filter": "datum.s == '激进'"}],
    "mark": {"type": "bar", "width": 1.3, "xOffset": -0.7},
    "encoding": {
      "x": {"field": "d", "type": "temporal", "title": null},
      "y": {"field": "v", "type": "quantitative", "axis": null, "stack": null},
      "color": {"field": "s", "type": "nominal", "title": null,
        "scale": {"domain": ["激进", "平衡", "上证指数", "股票基金"], "range": ["#4f81bd", "#c0504d", "#9bbb59", "#8064a2"]},
        "legend": {"encode": {"symbols": {"update": {
          "shape": {"signal": "(datum.value == '激进' || datum.value == '平衡') ? 'M-1,-0.25H1V0.25H-1Z' : 'M-1.05,-0.075H1.05V0.075H-1.05Z'"},
          "fill": {"scale": "color", "field": "value"},
          "stroke": {"value": "transparent"},
          "strokeWidth": {"value": 0},
          "opacity": {"value": 1}}}}}}
    }
  },
  {
    "data": {"name": "bar"},
    "transform": [{"filter": "datum.s == '平衡'"}],
    "mark": {"type": "bar", "width": 1.3, "xOffset": 0.7},
    "encoding": {
      "x": {"field": "d", "type": "temporal", "title": null},
      "y": {"field": "v", "type": "quantitative", "axis": null, "stack": null},
      "color": {"field": "s", "type": "nominal", "title": null}
    }
  },
  {
    "data": {"name": "line"},
    "mark": {"type": "line", "strokeWidth": 3, "clip": true, "strokeJoin": "round"},
    "encoding": {
      "x": {"field": "d", "type": "temporal", "title": null},
      "y": {"field": "v", "type": "quantitative", "axis": null},
      "color": {"field": "s", "type": "nominal", "title": null},
      "order": {"field": "d", "type": "temporal"}
    }
  }
]
}
